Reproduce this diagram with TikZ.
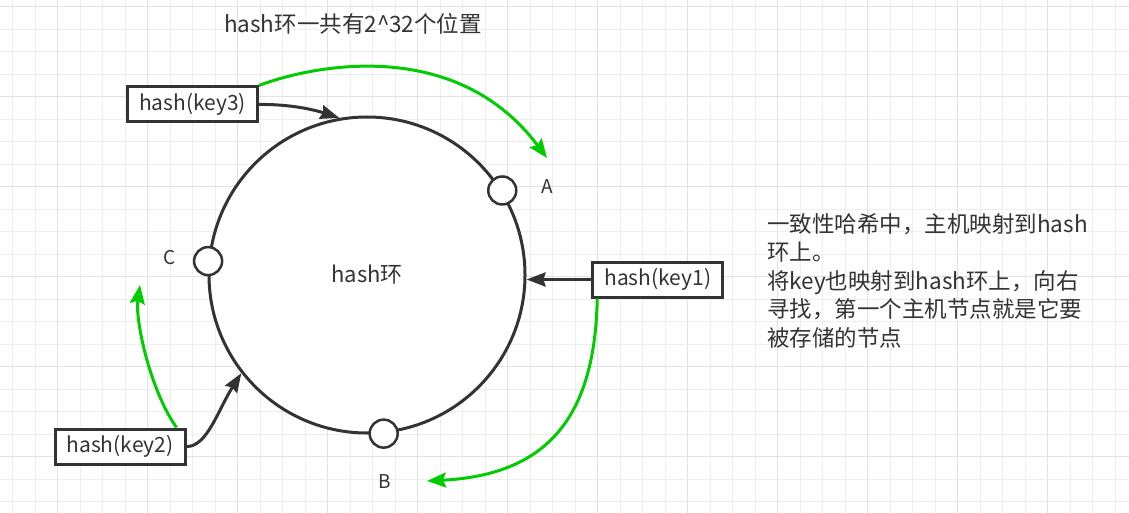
\documentclass[tikz,border=0pt]{standalone}
\usepackage{fontspec}
\setmainfont{Noto Sans CJK SC}
\usetikzlibrary{arrows.meta}
\definecolor{ink}{HTML}{333333}
\definecolor{keygreen}{HTML}{00CC00}
\definecolor{gridminor}{HTML}{EEEEEE}
\definecolor{gridmajor}{HTML}{E2E2E2}

\begin{document}
\begin{tikzpicture}[x=1pt, y=-1pt,
		hashring/.style={circle, draw=ink, fill=white, line width=3pt, minimum size=316pt, inner sep=0pt, text=ink, font=\fontsize{22}{26}\selectfont},
		hostpt/.style={circle, draw=ink, fill=white, line width=2.5pt, minimum size=28pt, inner sep=0pt},
		keybox/.style={rectangle, draw=ink, fill=white, line width=3pt, minimum width=130pt, minimum height=35pt, inner sep=0pt, text=ink, font=\fontsize{21}{25}\selectfont},
		ptlabel/.style={text=ink, font=\fontsize{19}{22}\selectfont},
		notetext/.style={text=ink, font=\fontsize{22.5}{28.5}\selectfont},
		toring/.style={draw=ink, line width=3pt, -{Stealth[length=19pt, width=14pt, inset=2pt]}},
		search/.style={draw=keygreen, line width=3pt, -{Stealth[length=19pt, width=15pt, inset=3pt]}}]
	\useasboundingbox (0,0) rectangle (1129,513);
	\fill[white] (0,0) rectangle (1129,513);
	% background grid
	\foreach \i in {0, ..., 49}
		\draw[gridminor, line width=1pt] ({12.7+22.5*\i}, 0) -- ({12.7+22.5*\i}, 513);
	\foreach \j in {0, ..., 22}
		\draw[gridminor, line width=1pt] (0, {6.7+22.5*\j}) -- (1129, {6.7+22.5*\j});
	\foreach \i in {0, ..., 11}
		\draw[gridmajor, line width=1pt] ({57.7+90*\i}, 0) -- ({57.7+90*\i}, 513);
	\foreach \j in {0, ..., 5}
		\draw[gridmajor, line width=1pt] (0, {6.7+90*\j}) -- (1129, {6.7+90*\j});

	\node[notetext] (title) at (353, 24) {hash环一共有2\textasciicircum 32个位置};

	% ring and hosts
	\node[hashring] (ring) at (367, 275) {hash环};
	\node[hostpt] (hostA) at (ring.32) {};
	\node[hostpt] (hostB) at (ring.-84) {};
	\node[hostpt] (hostC) at (ring.175) {};
	\node[ptlabel] (labA) at (547, 187) {A};
	\node[ptlabel] (labB) at (385, 482) {B};
	\node[ptlabel] (labC) at (170, 258) {C};

	% keys
	\node[keybox] (k3) at (192.5, 104.5) {hash(key3)};
	\node[keybox] (k2) at (120, 446.5) {hash(key2)};
	\node[keybox] (k1) at (657.75, 279.5) {hash(key1)};

	\node[notetext, anchor=north west, align=left, inner sep=0pt] (note) at (767, 213)
		{一致性哈希中，主机映射到hash\\环上。\\将key也映射到hash环上，向右\\寻找，第一个主机节点就是它要\\被存储的节点};

	% key -> ring
	\draw[toring] (k1.west) -- (k1.west -| ring.east);
	\draw[toring] (k3.east) .. controls (290, 104) and (315, 110) .. (ring.100);
	\draw[toring] (k2.east) .. controls (207, 447) and (218, 410) .. (ring.218);

	% clockwise search
	\coordinate (tipA) at (547, 158);
	\coordinate (tipB) at (427, 481);
	\coordinate (tipC) at (140, 285);
	\draw[search] (k3.north east) .. controls (310, 66) and (455, 35) .. (tipA);
	\draw[search] ([xshift=6pt]k1.south west) .. controls (595, 420) and (545, 475) .. (tipB);
	\draw[search] ([xshift=-10pt]k2.north east) .. controls (150, 390) and (135, 320) .. (tipC);
\end{tikzpicture}
\end{document}
